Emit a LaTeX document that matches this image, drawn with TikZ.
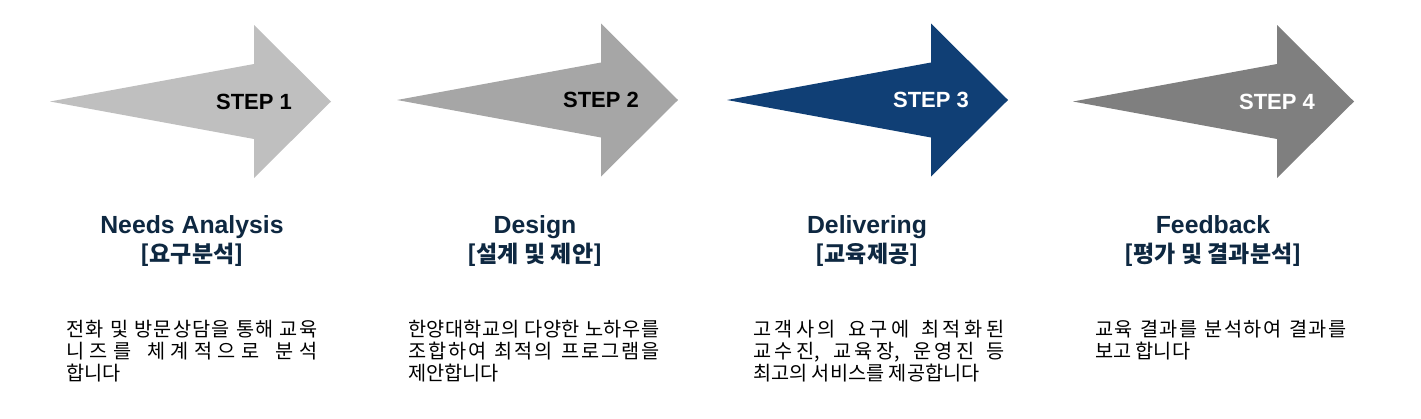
\documentclass[tikz,border=0pt]{standalone}
\usepackage{fontspec}
\setmainfont{Liberation Sans}
\newfontfamily\krfont{Noto Sans CJK KR}
\usepackage{xcolor}
\definecolor{stepgrayA}{HTML}{BFBFBF}
\definecolor{stepgrayB}{HTML}{A6A6A6}
\definecolor{stepnavy}{RGB}{16,63,117}
\definecolor{stepgrayC}{HTML}{7F7F7F}
\definecolor{headnavy}{HTML}{0E2841}
\newXeTeXintercharclass\hangulclass
\newcount\hgcode
\hgcode="AC00
\loop\XeTeXcharclass\hgcode=\hangulclass\advance\hgcode by 1\ifnum\hgcode<"D7A4\repeat
\newcommand\hgstretch{\nobreak\hskip 0pt plus 1pt\relax}
\XeTeXinterchartoks\hangulclass\hangulclass={\hgstretch}
\newcommand\hgon{\XeTeXinterchartokenstate=1\relax}

\begin{document}
\begin{tikzpicture}[x=1pt,y=-1pt,
steplabel/.style={font=\bfseries\fontsize{22}{22}\selectfont,inner sep=0pt},
headlabel/.style={align=center,text=headnavy,inner sep=0pt,anchor=base,font=\bfseries\fontsize{24.8}{29.5}\selectfont},
bodytext/.style={font=\krfont\fontsize{19.7}{21.75}\selectfont\hgon,text width=251pt,align=justify,inner sep=0pt,anchor=base west}]
\useasboundingbox (0,0) rectangle (1421,418);
\foreach \tx/\cy/\col/\tcol/\n in {50/101.5/stepgrayA/black/1,397/100/stepgrayB/black/2,727/100/stepnavy/white/3,1073/101.5/stepgrayC/white/4}{
\fill[\col] (\tx,\cy) -- (\tx+204,\cy-37.5) -- (\tx+204,\cy-76.5) -- (\tx+281,\cy) -- (\tx+204,\cy+76.5) -- (\tx+204,\cy+37.5) -- cycle;
\node[steplabel,text=\tcol] (step\n) at (\tx+204,\cy) {STEP \n};
}
\node[headlabel] (head1) at (192,262.5) {Needs Analysis\\{\krfont\fontsize{23}{29.5}\selectfont [요구분석]}};
\node[headlabel] (head2) at (535,262.5) {Design\\{\krfont\fontsize{23}{29.5}\selectfont [설계 및 제안]}};
\node[headlabel] (head3) at (867,262.5) {Delivering\\{\krfont\fontsize{23}{29.5}\selectfont [교육제공]}};
\node[headlabel] (head4) at (1213,262.5) {Feedback\\{\krfont\fontsize{23}{29.5}\selectfont [평가 및 결과분석]}};
\node[bodytext] (body1) at (66,336.5) {전화 및 방문상담을 통해 교육\linebreak 니즈를 체계적으로 분석\linebreak 합니다};
\node[bodytext] (body2) at (408,336.5) {한양대학교의 다양한 노하우를\linebreak 조합하여 최적의 프로그램을\linebreak 제안합니다};
\node[bodytext] (body3) at (753,336.5) {고객사의 요구에 최적화된\linebreak 교수진, 교육장, 운영진 등\linebreak 최고의 서비스를 제공합니다};
\node[bodytext] (body4) at (1095,336.5) {교육 결과를 분석하여 결과를\linebreak 보고 합니다};
		\end{tikzpicture}
\end{document}
